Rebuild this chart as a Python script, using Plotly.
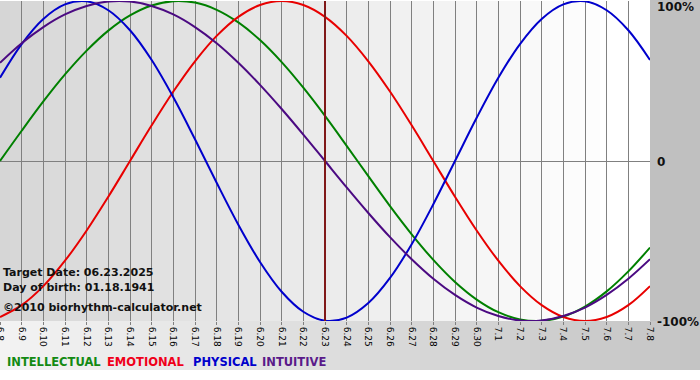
import plotly.graph_objects as go

# ---- data ----
dates = ["6.8", "6.9", "6.10", "6.11", "6.12", "6.13", "6.14", "6.15", "6.16", "6.17",
         "6.18", "6.19", "6.20", "6.21", "6.22", "6.23", "6.24", "6.25", "6.26", "6.27",
         "6.28", "6.29", "6.30", "7.1", "7.2", "7.3", "7.4", "7.5", "7.6", "7.7", "7.8"]

physical = [0.520, 0.731, 0.888, 0.979, 0.998, 0.942, 0.817, 0.631, 0.398, 0.136,
            -0.136, -0.398, -0.631, -0.817, -0.942, -0.998, -0.979, -0.888, -0.731, -0.520,
            -0.270, 0.000, 0.270, 0.520, 0.731, 0.888, 0.979, 0.998, 0.942, 0.817, 0.631]

emotional = [-0.975, -0.901, -0.782, -0.623, -0.434, -0.223, 0.000, 0.223, 0.434, 0.623,
             0.782, 0.901, 0.975, 1.000, 0.975, 0.901, 0.782, 0.623, 0.434, 0.223,
             0.000, -0.223, -0.434, -0.623, -0.782, -0.901, -0.975, -1.000, -0.975, -0.901, -0.782]

intellectual = [0.000, 0.189, 0.372, 0.541, 0.690, 0.815, 0.910, 0.972, 0.999, 0.990,
                0.945, 0.866, 0.756, 0.618, 0.458, 0.282, 0.095, -0.095, -0.282, -0.458,
                -0.618, -0.756, -0.866, -0.945, -0.990, -0.999, -0.972, -0.910, -0.815, -0.690, -0.541]

intuitive = [0.614, 0.736, 0.837, 0.916, 0.969, 0.997, 0.997, 0.969, 0.916, 0.837,
             0.736, 0.614, 0.476, 0.325, 0.165, 0.000, -0.165, -0.325, -0.476, -0.614,
             -0.736, -0.837, -0.916, -0.969, -0.997, -0.997, -0.969, -0.916, -0.837, -0.736, -0.614]

series_names = ["INTELLECTUAL", "EMOTIONAL", "PHYSICAL", "INTUITIVE"]
target_date = "6.23"
y_tick_vals = [1, 0, -1]
y_tick_text = ["100%", "0", "-100%"]
info_lines = ["Target Date: 06.23.2025", "Day of birth: 01.18.1941",
              "\u00a92010 biorhythm-calculator.net"]

# ---- styling ----
W, H = 700, 380
L, R, T, B = 0, 50, 1, 59
PW, PH = W - L - R, H - T - B
colors = {"INTELLECTUAL": "#008000", "EMOTIONAL": "#e80000",
          "PHYSICAL": "#0000cc", "INTUITIVE": "#4b0a82"}
legend_colors = {"INTELLECTUAL": "#138a13", "EMOTIONAL": "#f0001a",
                 "PHYSICAL": "#0000cc", "INTUITIVE": "#5a1a8a"}
FONT = "DejaVu Sans"


def px_x(p):
    return (p - L) / PW


def px_y(p):
    return (T + PH - p) / PH


def gray(c):
    c = int(round(max(0, min(255, c))))
    return f"rgb({c},{c},{c})"


fig = go.Figure()
xs = list(range(len(dates)))
for name, vals in zip(series_names, [intellectual, emotional, physical, intuitive]):
    fig.add_trace(go.Scatter(x=xs, y=vals, mode="lines", name=name,
                             line=dict(color=colors[name], width=2, shape="spline", smoothing=1.0),
                             showlegend=False, hoverinfo="skip", cliponaxis=True))

shapes = []
# plot-area gradient (gray on the left to white on the right)
step = 10
for i in range(0, PW, step):
    c = 214 + (255 - 214) * min(1.0, (i + step / 2) / 620)
    shapes.append(dict(type="rect", xref="paper", yref="paper",
                       x0=px_x(i), x1=px_x(i + step + 1), y0=0, y1=1,
                       fillcolor=gray(c), line=dict(width=0), layer="below"))
# right band
shapes.append(dict(type="rect", xref="paper", yref="paper",
                   x0=px_x(PW), x1=px_x(W + 2), y0=px_y(T + PH), y1=px_y(-2),
                   fillcolor="rgb(192,192,192)", line=dict(width=0), layer="below"))
# bottom band gradient
for i in range(0, W, step):
    c = 243 - (243 - 196) * ((i + step / 2) / W)
    shapes.append(dict(type="rect", xref="paper", yref="paper",
                       x0=px_x(i), x1=px_x(i + step + 1), y0=px_y(370), y1=px_y(T + PH),
                       fillcolor=gray(c), line=dict(width=0), layer="below"))
# target-date line
ti = dates.index(target_date)
shapes.append(dict(type="line", xref="x", yref="paper", x0=ti, x1=ti, y0=0, y1=1,
                   line=dict(color="#801818", width=2), layer="above"))

annotations = []
# right-side y labels
y_label_pos = {"100%": 7, "0": 162, "-100%": 322}
for v, t in zip(y_tick_vals, y_tick_text):
    annotations.append(dict(xref="paper", yref="paper", x=px_x(655), y=px_y(y_label_pos[t]),
                            xanchor="left", yanchor="middle", showarrow=False,
                            text=f"<b>{t}</b>", font=dict(family=FONT, size=12, color="#111")))
# info text
for txt, yc in zip(info_lines, [272, 287, 307]):
    annotations.append(dict(xref="paper", yref="paper", x=px_x(1), y=px_y(yc),
                            xanchor="left", yanchor="middle", showarrow=False,
                            text=f"<b>{txt}</b>", font=dict(family=FONT, size=11, color="#111")))
# legend texts
for name, xl in zip(series_names, [5, 105, 191, 260]):
    annotations.append(dict(xref="paper", yref="paper", x=px_x(xl), y=px_y(362),
                            xanchor="left", yanchor="middle", showarrow=False,
                            text=f"<b>{name}</b>",
                            font=dict(family=FONT, size=11.5, color=legend_colors[name])))

fig.update_layout(
    width=W, height=H,
    margin=dict(l=L, r=R, t=T, b=B, pad=0, autoexpand=False),
    paper_bgcolor="white", plot_bgcolor="rgba(0,0,0,0)",
    shapes=shapes, annotations=annotations,
    showlegend=False,
    xaxis=dict(range=[0, len(dates) - 1], tickmode="array", tickvals=xs, ticktext=dates,
               tickangle=90, tickfont=dict(family=FONT, size=9, color="#000"),
               ticklabeloverflow="allow",
               showgrid=True, gridcolor="#808080", gridwidth=1,
               ticks="outside", ticklen=3, tickcolor="#808080",
               zeroline=False, showline=False, fixedrange=True, automargin=False),
    yaxis=dict(range=[-1, 1], tickmode="array", tickvals=y_tick_vals, showticklabels=False,
               showgrid=True, gridcolor="#808080", gridwidth=1,
               zeroline=False, showline=False, ticks="", fixedrange=True, automargin=False),
)

fig.write_html("out.html", config={"displayModeBar": False},
               post_script="document.body.style.margin='0';document.body.style.overflow='hidden';")
